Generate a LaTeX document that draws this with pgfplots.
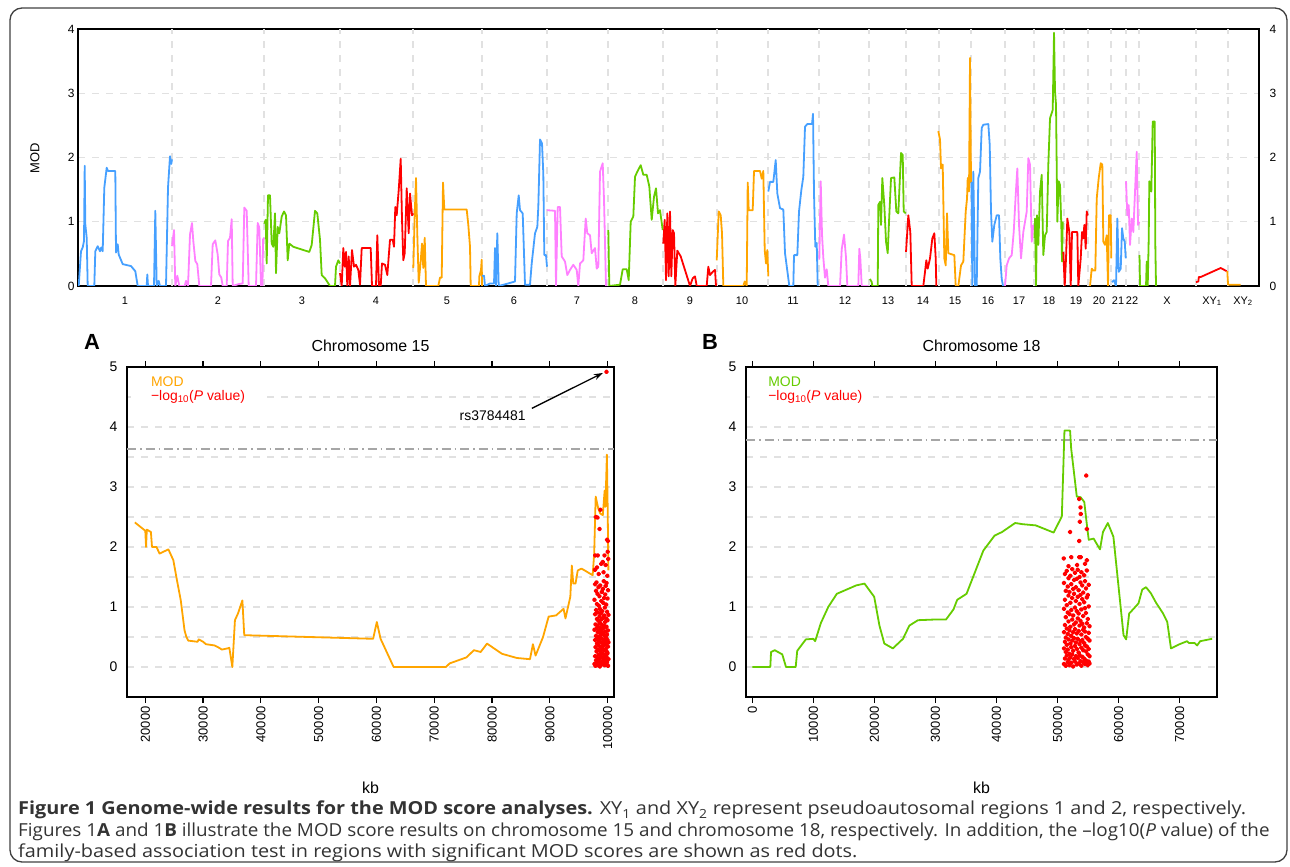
\documentclass[border=0pt]{standalone}
\usepackage{pgfplots}
\pgfplotsset{compat=1.18}
\usepackage{fontspec}
\setmainfont{Liberation Sans}
\newfontfamily\capfontA[FakeStretch=1.108]{Open Sans}
\newfontfamily\capfontB[FakeStretch=1.051]{Open Sans}
\usetikzlibrary{arrows.meta}

\definecolor{cblue}{RGB}{70,160,255}
\definecolor{cpink}{RGB}{255,128,255}
\definecolor{cgreen}{RGB}{102,204,0}
\definecolor{cred}{RGB}{255,0,0}
\definecolor{corange}{RGB}{255,165,0}
\definecolor{gridgray}{RGB}{225,225,225}

\pgfplotsset{
  every axis plot/.append style={line width=1.8bp, line join=round},
  /pgf/number format/assume math mode=true,
}

\begin{document}
\begin{tikzpicture}[x=1bp,y=1bp]
\useasboundingbox (0,0) rectangle (1290,867);
\draw[black!75, line width=1.3bp, rounded corners=12bp] (10,5) rectangle (1287,859);

% genome-wide panel
\begin{axis}[
  at={(78bp,581bp)}, anchor=south west, scale only axis,
  width=1181bp, height=257bp,
  xmin=78, xmax=1259, ymin=0, ymax=4,
  clip mode=individual,
  axis line style={line width=2bp},
  ytick={0,1,2,3,4}, ytick style={draw=none},
  yticklabel style={font=\fontsize{12}{14}\selectfont},
  ymajorgrids,
  grid style={gridgray, line width=1.2bp, dash pattern=on 7bp off 7bp},
  xtick={125,218,302,376,447,514,577,635,690,742,793,845,888,923,955,988,1019,1049,1076,1099,1118,1132,1167,1212,1243},
  xticklabels={1,2,3,4,5,6,7,8,9,10,11,12,13,14,15,16,17,18,19,20,21,22,X,XY\textsubscript{1},XY\textsubscript{2}},
  xticklabel style={font=\fontsize{11}{13}\selectfont, yshift=-7bp},
  xtick style={draw=none},
  extra x ticks={172,264,340,413,482,547,608,663,717,768,819,869,906,939,971,1005,1034,1064,1088,1111,1126,1139,1196,1228},
  extra x tick labels={},
  extra x tick style={grid=major, tick align=outside, major tick length=5bp, tick style={draw=black, line width=2bp}},
]
\addplot[cblue] coordinates {(78.7,0)(81,0.54)(82.7,0.6)(84,0.7)(84.7,1.87)(85.3,0.96)(86.7,0.75)(87.7,0)(94.3,0)(95.3,0.54)(97.7,0.62)(100,0.54)(101.3,0.6)(102.7,0.54)(104.3,1.53)(106.7,1.84)(108,1.79)(115.3,1.79)(116,0.52)(117.7,0.65)(118.7,0.49)(122.7,0.34)(131,0.31)(135.3,0.23)(137.7,0)(146.7,0)(147.3,0.18)(148,0)(154,0)(155.3,1.17)(156.7,0)(158.7,0.08)(160,0)(166,0)(168,1.53)(170,2.02)(171.3,1.9)(172,1.97)};
\addplot[cpink] coordinates {(172,0.62)(174,0.87)(175.3,0)(177.3,0.16)(179.3,0)(184.7,0)(186,0.08)(188,0)(190,0.8)(192,0.98)(193.3,0.7)(195.3,0.39)(197.3,0.34)(199.3,0)(211,0)(212.7,0.65)(215.3,0.71)(217.7,0.49)(219.3,0.18)(221.3,0.13)(222.7,0)(226.7,0)(228,0.7)(230,0.75)(231.7,1.04)(232.7,0)(238.7,0.03)(242.7,0.04)(244.3,1.22)(246.7,1.17)(248.7,0)(256,0)(257.7,0.98)(259.3,0.91)(261,0)(262.5,0)(263,0.72)(264,0.75)};
\addplot[cgreen] coordinates {(264.3,0.97)(265.7,1.03)(266.7,0.35)(268,1.41)(270,1.41)(271.7,0.66)(273.3,0.61)(275,1.13)(276,0.2)(277.7,0.92)(279.3,0.82)(281.7,1.08)(284,1.16)(286,1.1)(287.7,0.4)(289.3,0.66)(293.3,0.61)(303.3,0.56)(309.3,0.53)(311.7,0.64)(315,1.17)(317.3,1.13)(320,0.72)(321.7,0.17)(325,0.12)(330,0)(335,0)(336,0.3)(338.3,0.4)(340,0.35)};
\addplot[cred] coordinates {(340,0.2)(341.7,0)(343.3,0.59)(344.7,0.3)(346,0.53)(347.3,0)(348.7,0.46)(350,0)(352,0.56)(354,0.3)(356,0.33)(358.3,0.25)(360,0.02)(361.7,0.59)(370.7,0.59)(372,0)(376,0)(377.3,0.79)(379,0)(380.7,0)(382,0.35)(385,0.33)(387.3,0.17)(390,0.72)(392.7,0.72)(394,0.61)(395.3,1.23)(396.7,1.1)(398.7,1.49)(400.7,1.98)(402,1.03)(403.3,0.4)(404.7,0.51)(406.7,1.52)(408.7,0.82)(410,1.44)(412,1.1)(413.3,1.13)};
\addplot[corange] coordinates {(413.3,0.28)(414.7,1.11)(416,1.68)(417.3,0.8)(418.7,0.05)(420.7,0.39)(422,0.66)(423.3,0.28)(424.7,0.75)(426,0)(438.3,0)(440,0.13)(441.7,0.13)(443,1.61)(444.3,1.19)(466.7,1.19)(468.3,0.95)(470,0.61)(470.7,0)(479,0)(479.3,0.15)(481,0.25)(481.7,0.41)(482,0)};
\addplot[cblue] coordinates {(482,0.16)(484,0.16)(485,0)(490,0.04)(494,0.04)(495,0.59)(496,0)(497.3,0.82)(498.7,0)(508.3,0.04)(515,0.07)(516.7,1.13)(518.7,1.41)(520,1.18)(522.7,1.13)(525,0.02)(530,0.02)(531.7,0.35)(535,0.82)(537.3,0.92)(538.3,1.23)(540,2.28)(542,2.22)(543.3,1.75)(544.3,0.48)(546,0.48)(547,0.3)};
\addplot[cpink] coordinates {(547,1.18)(555,1.17)(556,0)(557.7,1.23)(560,1.23)(561.7,0.46)(565,0.38)(567.3,0.17)(570,0.25)(573.3,0.33)(576.7,0.25)(578.3,0)(580,0.35)(583.3,0.4)(585.7,1.05)(587.3,0.82)(590,0.79)(591.7,0.51)(595,0.59)(596.7,0.27)(598.3,0.3)(600,1.78)(602.7,1.91)(604,1.34)(605.3,0.46)(606,0)};
\addplot[cgreen] coordinates {(608.3,0.87)(609.3,0)(620,0.02)(622.7,0.26)(626.7,0.26)(628.7,0.09)(630.7,1.0)(633.3,1.08)(635,1.7)(637.3,1.78)(640.7,1.88)(643.3,1.73)(646.7,1.73)(649.3,1.55)(651.7,1.03)(654,1.39)(656,1.52)(658,1.13)(660,1.18)(662.7,0.87)};
\addplot[cred] coordinates {(663.3,0.66)(664.7,1.03)(666,0.09)(667.3,1.13)(668.7,0.15)(670,1.16)(671.3,0.15)(672.7,0.87)(674,0.82)(675.3,0)(677.3,0.55)(680.7,0.46)(690,0)(692.7,0.12)(695,0.15)(696.7,0)(706.7,0)(708.3,0.3)(710,0.17)(712.7,0.22)(715,0.25)(716,0)};
\addplot[corange] coordinates {(716.7,0.4)(718.7,1.16)(720.7,1.1)(722,0.82)(723.3,0)(743.3,0)(744.7,0.07)(746.7,0)(747.7,1.61)(748.7,1.18)(752.7,1.18)(754,1.79)(760,1.79)(761.7,1.67)(763.3,1.79)(764.7,0.56)(766,0.35)(767.3,0.56)(768.3,0.15)};
\addplot[cblue] coordinates {(768.3,1.47)(770,1.62)(773.3,1.62)(775.7,1.96)(777.3,1.44)(780,1.21)(783.3,1.19)(785,0.51)(789.3,0)(793.3,0)(794,0.48)(797.3,0.48)(799,1.16)(801.3,1.49)(803.3,1.7)(805,2.48)(807.3,2.52)(812,2.52)(813,2.68)(814,1.44)(815.3,0.61)(816.7,0.67)(817.7,0)};
\addplot[cpink] coordinates {(819.3,0.41)(820.7,1.63)(822,0.8)(823.3,0.44)(825,0.13)(826.7,0.26)(828.3,0)(840,0)(841.7,0.57)(844,0.8)(846,0.44)(847.3,0)(858.3,0)(859.3,0.58)(860.3,0.43)(861.7,0)(868.3,0)};
\addplot[cgreen] coordinates {(870,0.11)(871.7,0.06)(872.3,0)(877.7,0)(878.3,1.26)(880,1.31)(881,0.95)(882.3,1.68)(884.3,1.26)(886,0.69)(887.7,0.51)(889,1.0)(891,1.68)(894.3,1.69)(896.3,1.16)(898.3,1.13)(901,2.07)(902.7,2.04)(903.7,1.16)(905.7,1.13)};
\addplot[cred] coordinates {(906,0.53)(908.3,1.1)(910.3,0.84)(911.7,0)(923.3,0)(925,0.22)(926.3,0.4)(927.7,0.27)(930,0.43)(932.3,0.74)(934.3,0.82)(935.7,0.43)(936.3,0)};
\addplot[corange] coordinates {(938.3,2.41)(940,2.28)(941,1.83)(942.7,1.89)(944.3,0.43)(945.7,0.32)(947,1.13)(948.3,0.51)(954.3,0.48)(955.7,0)(958.3,0)(961,0.32)(963.3,0.38)(965.7,1.16)(967,1.36)(967.7,1.68)(969,1.47)(970,3.55)(971,1.6)};
\addplot[cblue] coordinates {(971.5,1.62)(972.3,0)(973.3,1.78)(975,0)(976.7,0)(978.3,1.68)(980,1.78)(981.7,2.46)(983.3,2.51)(988.3,2.52)(989.7,2.2)(991,1.16)(992.3,0.69)(994.3,0.95)(996.7,1.1)(999,1.1)(1000.3,0.43)(1001.7,0.11)(1003,0)};
\addplot[cpink] coordinates {(1005,0)(1006.7,0.32)(1009,0.43)(1011.7,0.48)(1013.7,0.84)(1015.7,1.42)(1017.3,1.83)(1019,0.95)(1021,0.43)(1023.3,0.84)(1025,1.0)(1026.7,1.16)(1028.3,1.99)(1030,1.89)(1031,1.16)(1031.7,0.69)(1033.3,0.95)};
\addplot[cgreen] coordinates {(1034.5,0.75)(1035,1.05)(1036,0)(1037,1.1)(1038.3,0.64)(1040,1.47)(1041.7,1.73)(1043.3,0.48)(1045,0.79)(1046.7,0.84)(1048.3,1.89)(1050,2.61)(1052.7,2.74)(1054,3.94)(1055,3.03)(1056,2.82)(1057.3,1.0)(1058.7,1.63)(1060,1.57)(1061.3,0.95)(1062,0.38)(1062.7,1.0)};
\addplot[cred] coordinates {(1063.3,0.53)(1064.7,0)(1066,0.43)(1067.3,1.05)(1069.3,0.84)(1070.7,0)(1072,0.84)(1077.3,0.84)(1078.3,0)(1080.7,0.43)(1082,0.84)(1083.3,0.74)(1084.3,0.95)(1085.7,0.58)(1086.7,1.16)(1087.7,1.1)};
\addplot[corange] coordinates {(1090,0)(1091.7,0.27)(1093.3,0.24)(1095.3,0.24)(1096.7,1.36)(1098.7,1.68)(1100.7,1.91)(1102.3,1.89)(1103.3,0.69)(1105,0.64)(1106.7,0.79)(1108,0)(1109,1.1)(1110.7,1.1)(1111.3,0.43)};
\addplot[cblue] coordinates {(1112,0.06)(1114,0.09)(1116,0)(1117.3,1.05)(1118.7,0.22)(1120.7,0.27)(1122,0.9)(1123.3,0.74)(1124.7,0.69)(1125.7,0.43)};
\addplot[cpink] coordinates {(1126,1.63)(1127.3,1.1)(1128.7,1.26)(1130,0.64)(1131.7,1.05)(1133.3,0.84)(1135,1.47)(1136.7,2.09)(1138,0.95)(1139.3,1.0)};
\addplot[cgreen] coordinates {(1139.5,0.48)(1140,0)(1146,0)(1146.7,0.38)(1147.7,0)(1148.7,0.74)(1149.3,1.63)(1151.3,1.47)(1152.7,2.56)(1154.7,2.56)(1155.3,0.64)(1156,0)};
\addplot[cred] coordinates {(1196,0.06)(1198.3,0.07)(1198.8,0.14)(1200.7,0.14)(1220.7,0.28)(1226.7,0.23)};
\addplot[corange] coordinates {(1227.3,0.23)(1228,0.02)(1240.7,0.02)};
\pgfplotsinvokeforeach{0,1,2,3,4}{
  \node[anchor=west, font=\fontsize{12}{14}\selectfont] at (axis cs:1259,#1) [xshift=7bp] {#1};
}
\end{axis}
\node[rotate=90, font=\fontsize{13}{15}\selectfont] at (35,709) {MOD};

% panel A
\begin{axis}[
  at={(127bp,170bp)}, anchor=south west, scale only axis,
  width=487bp, height=330bp,
  xmin=16834, xmax=101100, ymin=-0.5, ymax=5,
  clip mode=individual,
  axis line style={line width=2bp},
  xtick={20000,30000,...,100000},
  scaled x ticks=false,
  xticklabel={\pgfmathprintnumber[fixed,1000 sep={}]{\tick}},
  xticklabel style={rotate=90, anchor=east, font=\fontsize{13}{15}\selectfont},
  xtick style={draw=black, line width=1.2bp}, tick align=outside, major tick length=6bp,
  ytick={0,1,2,3,4,5}, minor ytick={0.5,1.5,2.5,3.5,4.5},
  ytick style={draw=none}, minor tick length=0,
  yticklabel style={font=\fontsize{14}{16}\selectfont},
  ymajorgrids, yminorgrids,
  major grid style={gridgray, line width=1.2bp, dash pattern=on 7bp off 7bp},
  minor grid style={gridgray, line width=1.2bp, dash pattern=on 7bp off 7bp},
]
\fill[white] (rel axis cs:0.008,0.88) rectangle (rel axis cs:0.283,0.99);
\addplot[gray!70, line width=1.4bp, dash pattern=on 9bp off 4bp on 1.5bp off 4bp] coordinates {(16834,3.63)(101100,3.63)};
\addplot[corange] coordinates {(18190,2.41)(20000,2.27)(20130,2.0)(20260,2.29)(20970,2.25)(21160,2.0)(21940,2.0)(22460,1.89)(24000,1.96)(24850,1.78)(25490,1.44)(26140,1.11)(26790,0.61)(27110,0.5)(27430,0.44)(29050,0.42)(29240,0.46)(30020,0.42)(30470,0.38)(31950,0.36)(32600,0.33)(33250,0.29)(34220,0.31)(34540,0.32)(35060,0)(35510,0.78)(36030,0.89)(36800,1.11)(37120,0.53)(59420,0.47)(60060,0.75)(60710,0.47)(62970,0)(72020,0)(72660,0.06)(75570,0.16)(76860,0.28)(78030,0.25)(79130,0.39)(81710,0.22)(84300,0.15)(86560,0.13)(87070,0.38)(87530,0.19)(88820,0.5)(89790,0.84)(91080,0.86)(92370,0.97)(92700,0.81)(93540,1.17)(93800,1.69)(94050,1.39)(94440,1.39)(94830,1.61)(95480,1.64)(97410,1.53)(97670,1.89)(97930,2.84)(98380,2.64)(98710,2.56)(99160,2.53)(99480,2.94)(99610,2.67)(99870,3.54)(100000,2.67)(100130,1.61)};
\addplot[only marks, mark=*, mark size=1.5bp, cred, mark options={draw=none}] coordinates {
(99800,4.92)(97950,2.50)(98250,2.49)(98750,2.62)(98600,2.30)(99900,2.12)(100050,2.10)(97850,1.86)(98300,1.86)(99450,1.86)(100000,1.92)(99150,1.75)(97800,1.62)(98150,1.66)(99650,1.70)(98900,1.72)(99300,1.58)(100100,1.80)(98450,1.55)(99950,1.52)
(97720,0.05)(97720,0.62)(97720,1.12)(97830,0.18)(97830,0.45)(97830,0.88)(97830,1.38)(97900,0.02)(97900,0.33)(97900,0.71)
(97990,0.11)(97990,0.52)(97990,0.95)(97990,1.27)(98060,0.26)(98060,0.64)(98060,1.41)(98140,0.08)(98140,0.39)(98140,0.80)(98140,1.05)
(98230,0.15)(98230,0.47)(98230,0.69)(98230,1.22)(98310,0.03)(98310,0.29)(98310,0.58)(98310,0.91)(98400,0.21)(98400,0.44)(98400,0.77)(98400,1.33)
(98480,0.09)(98480,0.36)(98480,0.60)(98480,1.02)(98570,0.13)(98570,0.51)(98570,0.84)(98570,1.18)(98650,0.01)(98650,0.27)(98650,0.66)(98650,0.97)
(98730,0.19)(98730,0.42)(98730,0.73)(98730,1.36)(98820,0.06)(98820,0.33)(98820,0.55)(98820,0.89)(98900,0.24)(98900,0.48)(98900,0.79)(98900,1.10)
(98980,0.04)(98980,0.31)(98980,0.62)(98980,1.25)(99070,0.16)(99070,0.40)(99070,0.70)(99070,0.93)(99150,0.10)(99150,0.35)(99150,0.57)(99150,1.30)
(99230,0.22)(99230,0.46)(99230,0.82)(99230,1.07)(99320,0.07)(99320,0.28)(99320,0.65)(99320,1.43)(99400,0.14)(99400,0.53)(99400,0.86)(99400,1.15)
(99490,0.03)(99490,0.37)(99490,0.68)(99490,0.99)(99570,0.20)(99570,0.43)(99570,0.75)(99570,1.21)(99650,0.12)(99650,0.30)(99650,0.59)(99650,1.35)
(99740,0.05)(99740,0.49)(99740,0.81)(99740,1.04)(99820,0.17)(99820,0.38)(99820,0.67)(99820,1.40)(99900,0.08)(99900,0.25)(99900,0.54)(99900,0.92)
(99990,0.23)(99990,0.45)(99990,0.78)(99990,1.14)(100070,0.02)(100070,0.34)(100070,0.61)(100070,1.28)(100150,0.13)(100150,0.41)(100150,0.87)};
\node[anchor=west, text=corange, font=\fontsize{14}{16}\selectfont, inner sep=0] at (rel axis cs:0.049,0.955) {MOD};
\node[anchor=west, text=cred, font=\fontsize{14}{16}\selectfont, inner sep=0] at (rel axis cs:0.049,0.909) {−log\textsubscript{10}(\textit{P} value)};
\node[font=\fontsize{14}{16}\selectfont] at (axis cs:80100,4.19) {rs3784481};
\draw[-{Stealth[length=9bp,width=6bp]}, line width=1.3bp] (axis cs:86880,4.31) -- (axis cs:99160,4.9);
\node[font=\fontsize{16}{18}\selectfont] at (rel axis cs:0.5,1) [yshift=21bp] {Chromosome 15};
\node[font=\fontsize{16}{18}\selectfont] at (rel axis cs:0.5,0) [yshift=-91bp] {kb};
\end{axis}
\node[font=\bfseries\fontsize{22}{24}\selectfont] at (92,525) {A};

% panel B
\begin{axis}[
  at={(746bp,170bp)}, anchor=south west, scale only axis,
  width=471bp, height=330bp,
  xmin=-1041, xmax=76124, ymin=-0.5, ymax=5,
  clip mode=individual,
  axis line style={line width=2bp},
  xtick={0,10000,...,70000},
  scaled x ticks=false,
  xticklabel={\pgfmathprintnumber[fixed,1000 sep={}]{\tick}},
  xticklabel style={rotate=90, anchor=east, font=\fontsize{13}{15}\selectfont},
  xtick style={draw=black, line width=1.2bp}, tick align=outside, major tick length=6bp,
  ytick={0,1,2,3,4,5}, minor ytick={0.5,1.5,2.5,3.5,4.5},
  ytick style={draw=none}, minor tick length=0,
  yticklabel style={font=\fontsize{14}{16}\selectfont},
  ymajorgrids, yminorgrids,
  major grid style={gridgray, line width=1.2bp, dash pattern=on 7bp off 7bp},
  minor grid style={gridgray, line width=1.2bp, dash pattern=on 7bp off 7bp},
]
\fill[white] (rel axis cs:0.008,0.88) rectangle (rel axis cs:0.27,0.99);
\addplot[gray!70, line width=1.4bp, dash pattern=on 9bp off 4bp on 1.5bp off 4bp] coordinates {(-1041,3.78)(76124,3.78)};
\addplot[cgreen] coordinates {(0,0)(2940,0)(3060,0.25)(3670,0.28)(4900,0.21)(5510,0)(7100,0)(7350,0.27)(8760,0.46)(9980,0.47)(10290,0.43)(11210,0.73)(12430,1.0)(13840,1.22)(17020,1.36)(18370,1.39)(19960,1.17)(20820,0.69)(21620,0.39)(23020,0.31)(24680,0.47)(25720,0.69)(27130,0.78)(29580,0.79)(31720,0.79)(32950,0.96)(33560,1.12)(35090,1.22)(36620,1.62)(37840,1.94)(39680,2.19)(40910,2.25)(43050,2.4)(44270,2.38)(46420,2.36)(49360,2.24)(50700,2.51)(51130,3.94)(52050,3.94)(52230,3.64)(53150,2.84)(53770,2.83)(54380,2.75)(54870,2.31)(55110,2.12)(55910,2.14)(56950,1.96)(57440,2.25)(58240,2.4)(59150,2.17)(60810,0.53)(61240,0.46)(61730,0.89)(63260,1.06)(63870,1.29)(64490,1.33)(65280,1.23)(66140,1.07)(67240,0.9)(67970,0.75)(68580,0.31)(69990,0.38)(71220,0.43)(71530,0.4)(72440,0.4)(72870,0.36)(73360,0.43)(75320,0.47)};
\addplot[only marks, mark=*, mark size=1.5bp, cred, mark options={draw=none}] coordinates {
(54700,3.19)(53550,2.80)(53750,2.66)(53800,2.55)(53650,2.42)(52050,2.25)(54800,2.30)(53550,2.10)(51000,1.81)(52250,1.83)(53550,1.83)(53800,1.83)(54800,1.78)(53200,1.70)(51800,1.68)(54500,1.72)
(51050,0.05)(51050,0.31)(51050,0.58)(51050,0.97)(51050,1.40)(51200,0.14)(51200,0.42)(51200,0.70)(51200,1.12)(51200,1.55)
(51350,0.02)(51350,0.25)(51350,0.49)(51350,0.83)(51350,1.27)(51500,0.19)(51500,0.37)(51500,0.64)(51500,1.03)(51500,1.60)
(51650,0.08)(51650,0.29)(51650,0.55)(51650,0.91)(51650,1.34)(51800,0.12)(51800,0.46)(51800,0.76)(51800,1.19)(51800,1.48)
(51950,0.03)(51950,0.22)(51950,0.61)(51950,0.88)(51950,1.25)(52100,0.16)(52100,0.39)(52100,0.67)(52100,1.07)(52100,1.52)
(52250,0.07)(52250,0.33)(52250,0.52)(52250,0.95)(52250,1.38)(52400,0.21)(52400,0.44)(52400,0.79)(52400,1.15)(52400,1.63)
(52550,0.01)(52550,0.27)(52550,0.58)(52550,0.86)(52550,1.30)(52700,0.13)(52700,0.48)(52700,0.71)(52700,1.22)(52700,1.45)
(52850,0.09)(52850,0.35)(52850,0.63)(52850,0.99)(52850,1.57)(53000,0.18)(53000,0.41)(53000,0.74)(53000,1.10)(53000,1.33)
(53150,0.04)(53150,0.30)(53150,0.56)(53150,0.93)(53150,1.47)(53300,0.15)(53300,0.47)(53300,0.81)(53300,1.17)(53300,1.62)
(53450,0.06)(53450,0.24)(53450,0.60)(53450,0.89)(53450,1.28)(53600,0.20)(53600,0.38)(53600,0.69)(53600,1.05)(53600,1.50)
(53750,0.10)(53750,0.43)(53750,0.77)(53750,1.20)(53750,1.41)(53900,0.02)(53900,0.32)(53900,0.54)(53900,0.96)(53900,1.58)
(54050,0.17)(54050,0.45)(54050,0.72)(54050,1.13)(54050,1.36)(54200,0.08)(54200,0.28)(54200,0.62)(54200,0.85)(54200,1.24)
(54350,0.14)(54350,0.40)(54350,0.66)(54350,1.08)(54350,1.53)(54500,0.05)(54500,0.36)(54500,0.59)(54500,0.98)(54500,1.43)
(54650,0.11)(54650,0.26)(54650,0.50)(54650,0.90)(54650,1.31)(54800,0.07)(54800,0.34)(54800,0.73)(54800,1.16)(54800,1.61)
(54950,0.03)(54950,0.21)(54950,0.47)(54950,0.80)(54950,1.20)(55100,0.09)(55100,0.30)(55100,0.57)(55100,1.01)(55100,1.37)
(55250,0.06)(55250,0.18)(55250,0.44)(55250,0.68)};
\node[anchor=west, text=cgreen, font=\fontsize{14}{16}\selectfont, inner sep=0] at (rel axis cs:0.047,0.955) {MOD};
\node[anchor=west, text=cred, font=\fontsize{14}{16}\selectfont, inner sep=0] at (rel axis cs:0.047,0.909) {−log\textsubscript{10}(\textit{P} value)};
\node[font=\fontsize{16}{18}\selectfont] at (rel axis cs:0.5,1) [yshift=21bp] {Chromosome 18};
\node[font=\fontsize{16}{18}\selectfont] at (rel axis cs:0.5,0) [yshift=-91bp] {kb};
\end{axis}
\node[font=\bfseries\fontsize{22}{24}\selectfont] at (710,525) {B};

% caption
\begin{scope}[every node/.style={anchor=base west, inner sep=0, text=black!80}]
\node[font=\capfontA\fontsize{18}{20}\selectfont] at (18,52) {{\bfseries Figure 1 Genome-wide results for the MOD score analyses.} XY\textsubscript{1} and XY\textsubscript{2} represent pseudoautosomal regions 1 and 2, respectively.};
\node[font=\capfontB\fontsize{18}{20}\selectfont] at (18,30.5) {Figures 1{\bfseries A} and 1{\bfseries B} illustrate the MOD score results on chromosome 15 and chromosome 18, respectively. In addition, the –log10(\textit{P} value) of the};
\node[font=\capfontA\fontsize{18}{20}\selectfont] at (18,9) {family-based association test in regions with significant MOD scores are shown as red dots.};
\end{scope}
\end{tikzpicture}
\end{document}
